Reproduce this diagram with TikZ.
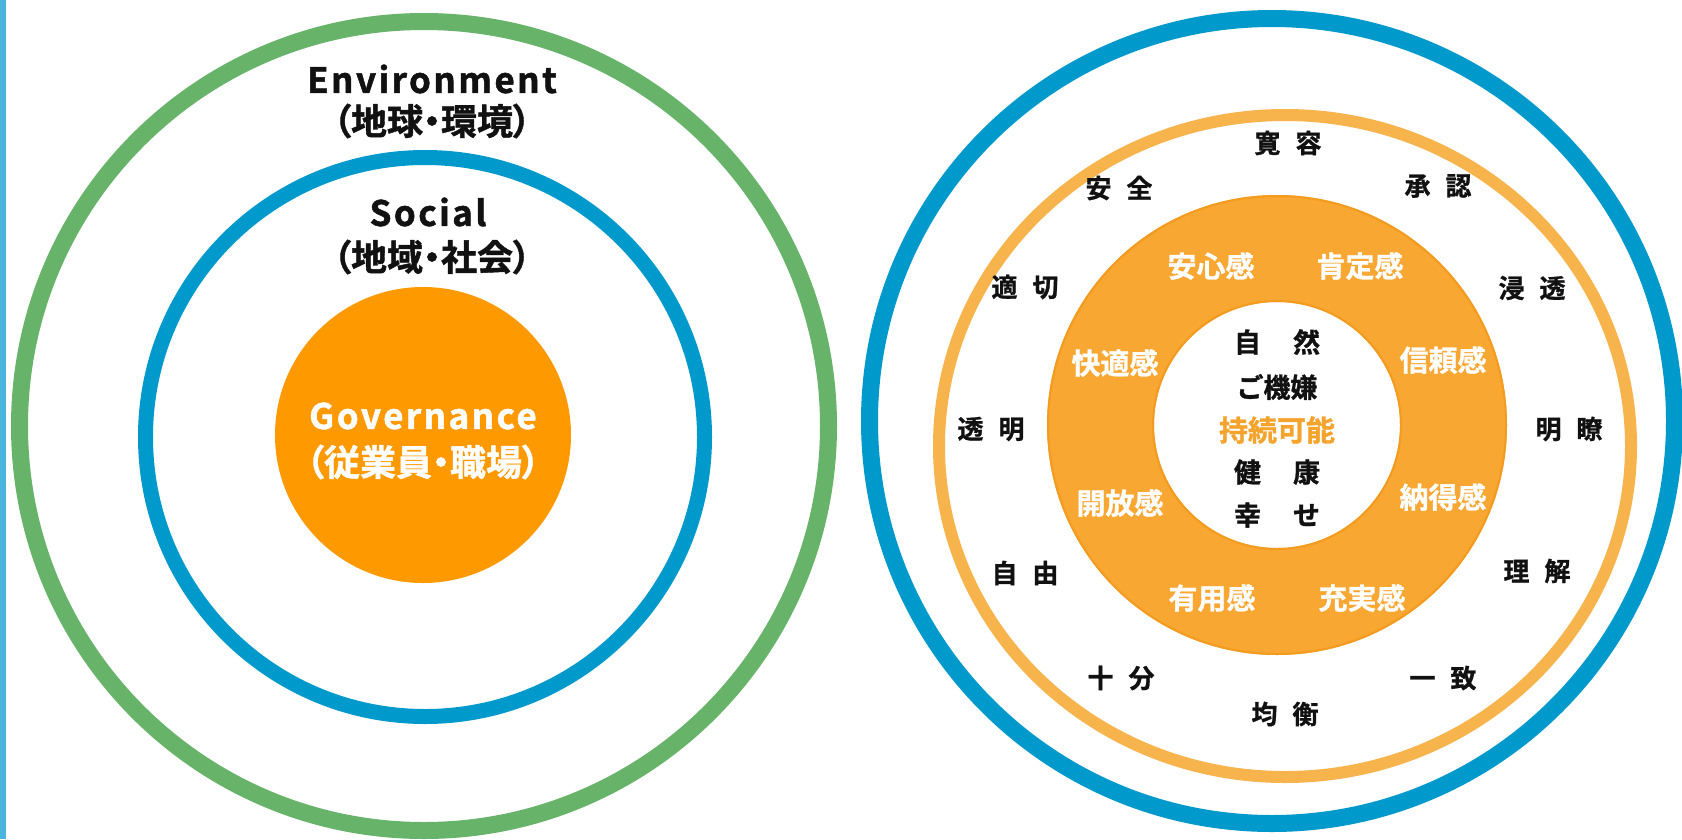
\documentclass[tikz,border=0pt]{standalone}
\usepackage{fontspec}
\setmainfont{Noto Sans CJK JP}
\newfontfamily\jpb{Noto Sans CJK JP Bold}[FakeBold=1]
\newfontfamily\jpp{Noto Sans CJK JP Bold}[FakeBold=1.2,RawFeature=+palt]
\newfontfamily\latb{Noto Sans CJK JP Bold}[LetterSpace=7,FakeBold=1.5]
\definecolor{stripblue}{HTML}{4BB5DF}
\definecolor{envgreen}{HTML}{67B36A}
\definecolor{ringblue}{HTML}{0099CC}
\definecolor{govorange}{HTML}{FF9900}
\definecolor{lightorange}{HTML}{F8B44C}
\definecolor{donut}{HTML}{F9A733}
\definecolor{donutedge}{HTML}{F39B1E}
\definecolor{sustain}{HTML}{F4A42C}
\definecolor{txt}{HTML}{111111}
\tikzset{
  lbl/.style={inner sep=0pt, align=center, text=txt},
  latin/.style={lbl, font=\latb\fontsize{35}{40}\selectfont},
  jpline/.style={lbl, font=\jpp\fontsize{36}{40}\selectfont},
  ringword/.style={lbl, font=\jpb\fontsize{26}{28}\selectfont},
  donutword/.style={lbl, text=white, font=\jpb\fontsize{29}{32}\selectfont},
  coreword/.style={lbl, font=\jpb\fontsize{27}{30}\selectfont},
}
\newcommand{\rgap}{\hspace{15pt}}
\newcommand{\cgap}{\hspace{32pt}}
\begin{document}
\begin{tikzpicture}[x=1pt,y=-1pt]
\useasboundingbox (0,0) rectangle (1682,839);
\fill[white] (0,0) rectangle (1682,839);
% left strip
\fill[stripblue] (0,0) rectangle (6,839);
% left diagram
\draw[envgreen, line width=17pt] (424,426) circle[radius=404.5];
\draw[ringblue, line width=15pt] (425,437) circle[radius=279.5];
\fill[govorange] (423,435) circle[radius=148];
\node[latin] (env) at (432,79) {Environment};
\node[jpline] (envjp) at (432,121) {（地球・環境）};
\node[latin] (soc) at (428,212) {Social};
\node[jpline] (socjp) at (432,257) {（地域・社会）};
\node[latin, text=white] (gov) at (423,416) {Governance};
\node[jpline, text=white] (govjp) at (423,462) {（従業員・職場）};
% right diagram
\draw[ringblue, line width=17pt] (1272,421) circle[radius=402.5];
\draw[lightorange, line width=12pt] (1285,446) ellipse[x radius=346, y radius=331];
\fill[donut, even odd rule] (1277,425) circle[radius=230] (1277,425) circle[radius=123];
\draw[donutedge, line width=2pt] (1277,425) circle[radius=229] (1277,425) circle[radius=124];
% outer ring words
\node[ringword] (w1) at (1288,143) {寛\rgap 容};
\node[ringword] (w2) at (1438,186) {承\rgap 認};
\node[ringword] (w3) at (1532,288) {浸\rgap 透};
\node[ringword] (w4) at (1569,429) {明\rgap 瞭};
\node[ringword] (w5) at (1537,571) {理\rgap 解};
\node[ringword] (w6) at (1443,678) {一\rgap 致};
\node[ringword] (w7) at (1285,714) {均\rgap 衡};
\node[ringword] (w8) at (1121,678) {十\rgap 分};
\node[ringword] (w9) at (1025,573) {自\rgap 由};
\node[ringword] (w10) at (991,429) {透\rgap 明};
\node[ringword] (w11) at (1025,287) {適\rgap 切};
\node[ringword] (w12) at (1119,188) {安\rgap 全};
% donut words
\node[donutword] (d1) at (1211,266) {安心感};
\node[donutword] (d2) at (1360,266) {肯定感};
\node[donutword] (d3) at (1443,360) {信頼感};
\node[donutword] (d4) at (1443,497) {納得感};
\node[donutword] (d5) at (1362,598) {充実感};
\node[donutword] (d6) at (1212,598) {有用感};
\node[donutword] (d7) at (1120,503) {開放感};
\node[donutword] (d8) at (1115,363) {快適感};
% core words
\node[coreword] (c1) at (1277,342) {自\cgap 然};
\node[coreword] (c2) at (1277,387) {ご機嫌};
\node[coreword, text=sustain, font=\jpb\fontsize{29}{32}\selectfont] (c3) at (1277,430) {持続可能};
\node[coreword] (c4) at (1277,472) {健\cgap 康};
\node[coreword] (c5) at (1277,515) {幸\cgap せ};
\end{tikzpicture}
\end{document}
